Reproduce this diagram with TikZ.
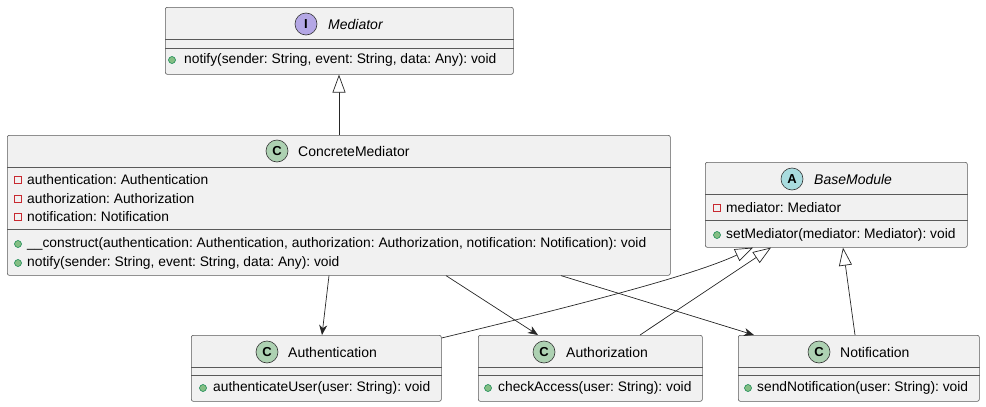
\documentclass[tikz,border=0pt]{standalone}
\usepackage{xcolor}
\usepackage{fontspec}
\setmainfont{Liberation Sans}
\usetikzlibrary{arrows.meta}
\frenchspacing

\definecolor{boxgray}{HTML}{F1F1F1}
\definecolor{classcol}{HTML}{ADD1B2}
\definecolor{ifacecol}{HTML}{B4A7E5}
\definecolor{abstrcol}{HTML}{A9DCDF}
\definecolor{privred}{HTML}{C82930}
\definecolor{pubfill}{HTML}{84BE84}
\definecolor{publine}{HTML}{038048}

\tikzset{
	classbox/.style={draw=black!65, fill=boxgray, rounded corners=2pt, line width=0.6pt,
		anchor=north west, inner sep=0pt},
	divider/.style={draw=black!65, line width=0.6pt},
	member/.style={anchor=west, inner sep=0pt, font=\fontsize{13.8}{15}\selectfont},
	classname/.style={anchor=west, inner sep=0pt, font=\fontsize{14}{16}\selectfont},
	icon/.style={circle, draw=black!80, line width=0.6pt, minimum size=22pt, inner sep=0pt,
		font=\fontsize{13}{14}\selectfont\bfseries},
	privbox/.style={draw=privred, line width=0.7pt, minimum size=7pt, inner sep=0pt},
	pubdot/.style={circle, draw=publine, fill=pubfill, line width=0.5pt, minimum size=7pt, inner sep=0pt},
	uses/.style={draw=black!85, line width=0.7pt, -{Stealth[length=10pt, width=8pt, inset=3pt]}},
	extends/.style={draw=black!85, line width=0.7pt, -{Triangle[open, length=18pt, width=13pt, fill=white]}}
}

\begin{document}
\begin{tikzpicture}[x=1pt, y=-1pt]
	\useasboundingbox (0,0) rectangle (986,407);
	
	% Mediator
	\node[classbox, minimum width=348pt, minimum height=67pt] (med) at (165,7) {};
	\draw[divider] ([yshift=-32pt]med.north west) -- ([yshift=-32pt]med.north east);
	\draw[divider] ([yshift=-41pt]med.north west) -- ([yshift=-41pt]med.north east);
	\node[icon, fill=ifacecol] (medicon) at (306,24) {I};
	\node[classname, font=\fontsize{14}{16}\selectfont\itshape] (medname) at (328,24) {Mediator};
	\node[pubdot] (meddot) at (172,60) {};
	\node[member] (medm1) at (184,60) {notify(sender: String, event: String, data: Any): void};
	
	% ConcreteMediator
	\node[classbox, minimum width=663pt, minimum height=140pt] (cmed) at (7,135) {};
	\draw[divider] ([yshift=-32pt]cmed.north west) -- ([yshift=-32pt]cmed.north east);
	\draw[divider] ([yshift=-94pt]cmed.north west) -- ([yshift=-94pt]cmed.north east);
	\node[icon, fill=classcol] (cmedicon) at (277,151) {C};
	\node[classname] (cmedname) at (298,151) {ConcreteMediator};
	\node[privbox] (cmedp1) at (18,180) {};
	\node[member] (cmeda1) at (27,180) {authentication: Authentication};
	\node[privbox] (cmedp2) at (18,199) {};
	\node[member] (cmeda2) at (27,199) {authorization: Authorization};
	\node[privbox] (cmedp3) at (18,217) {};
	\node[member] (cmeda3) at (27,217) {notification: Notification};
	\node[pubdot] (cmedd1) at (18,244) {};
	\node[member] (cmedm1) at (27,244) {\_\_construct(authentication: Authentication, authorization: Authorization, notification: Notification): void};
	\node[pubdot] (cmedd2) at (18,263) {};
	\node[member] (cmedm2) at (27,263) {notify(sender: String, event: String, data: Any): void};
	
	% BaseModule
	\node[classbox, minimum width=262pt, minimum height=85pt] (base) at (705,162) {};
	\draw[divider] ([yshift=-32pt]base.north west) -- ([yshift=-32pt]base.north east);
	\draw[divider] ([yshift=-58pt]base.north west) -- ([yshift=-58pt]base.north east);
	\node[icon, fill=abstrcol] (baseicon) at (792,179) {A};
	\node[classname, font=\fontsize{14}{16}\selectfont\itshape] (basename) at (814,179) {BaseModule};
	\node[privbox] (basep1) at (717,208) {};
	\node[member] (basea1) at (726,208) {mediator: Mediator};
	\node[pubdot] (based1) at (717,235) {};
	\node[member] (basem1) at (726,235) {setMediator(mediator: Mediator): void};
	
	% Authentication
	\node[classbox, minimum width=250pt, minimum height=66pt] (auth) at (191,335) {};
	\draw[divider] ([yshift=-32pt]auth.north west) -- ([yshift=-32pt]auth.north east);
	\draw[divider] ([yshift=-40pt]auth.north west) -- ([yshift=-40pt]auth.north east);
	\node[icon, fill=classcol] (authicon) at (267,352) {C};
	\node[classname] (authname) at (288,352) {Authentication};
	\node[pubdot] (authd1) at (203,388) {};
	\node[member] (authm1) at (213,388) {authenticateUser(user: String): void};
	
	% Authorization
	\node[classbox, minimum width=224pt, minimum height=66pt] (authz) at (478,335) {};
	\draw[divider] ([yshift=-32pt]authz.north west) -- ([yshift=-32pt]authz.north east);
	\draw[divider] ([yshift=-40pt]authz.north west) -- ([yshift=-40pt]authz.north east);
	\node[icon, fill=classcol] (authzicon) at (544,352) {C};
	\node[classname] (authzname) at (566,352) {Authorization};
	\node[pubdot] (authzd1) at (488,388) {};
	\node[member] (authzm1) at (498,388) {checkAccess(user: String): void};
	
	% Notification
	\node[classbox, minimum width=241pt, minimum height=66pt] (notif) at (738,335) {};
	\draw[divider] ([yshift=-32pt]notif.north west) -- ([yshift=-32pt]notif.north east);
	\draw[divider] ([yshift=-40pt]notif.north west) -- ([yshift=-40pt]notif.north east);
	\node[icon, fill=classcol] (notificon) at (819,352) {C};
	\node[classname] (notifname) at (840,352) {Notification};
	\node[pubdot] (notifd1) at (748,388) {};
	\node[member] (notifm1) at (757,388) {sendNotification(user: String): void};
	
	% connectors
	\draw[extends] ([xshift=332pt]cmed.north west) -- ([xshift=174pt]med.south west);
	\draw[uses] ([xshift=322pt]cmed.south west) -- ([xshift=131pt]auth.north west);
	\draw[uses] ([xshift=439pt]cmed.south west) -- ([xshift=60pt]authz.north west);
	\draw[uses] ([xshift=554pt]cmed.south west) -- ([xshift=16pt]notif.north west);
	\draw[extends] ([yshift=-3pt]auth.north east) .. controls (620,295) and (700,272) .. ([xshift=48pt]base.south west);
	\draw[extends] ([xshift=162pt]authz.north west) -- ([xshift=66pt]base.south west);
	\draw[extends] ([xshift=117pt]notif.north west) -- ([xshift=138pt]base.south west);
\end{tikzpicture}
\end{document}
